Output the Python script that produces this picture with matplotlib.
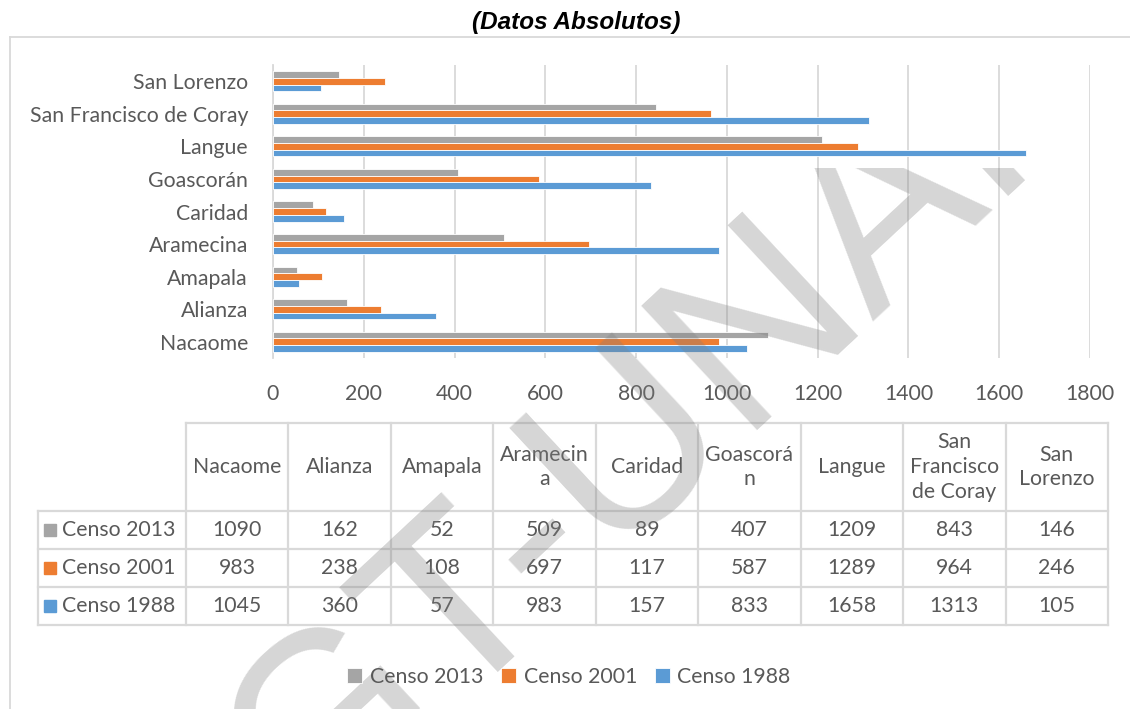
import matplotlib
matplotlib.use("Agg")
import matplotlib.pyplot as plt
from matplotlib.patches import Rectangle
from matplotlib.transforms import Bbox, TransformedBbox
import numpy as np

# data (bottom to top in the bar chart, left to right in the table)
municipios = ["Nacaome", "Alianza", "Amapala", "Aramecina", "Caridad",
              "Goascorán", "Langue", "San Francisco de Coray", "San Lorenzo"]
cabeceras = ["Nacaome", "Alianza", "Amapala", "Aramecin\na", "Caridad",
             "Goascorá\nn", "Langue", "San\nFrancisco\nde Coray", "San\nLorenzo"]
censo_2013 = [1090, 162, 52, 509, 89, 407, 1209, 843, 146]
censo_2001 = [983, 238, 108, 697, 117, 587, 1289, 964, 246]
censo_1988 = [1045, 360, 57, 983, 157, 833, 1658, 1313, 105]
series = ["Censo 2013", "Censo 2001", "Censo 1988"]
ticks_x = [0, 200, 400, 600, 800, 1000, 1200, 1400, 1600, 1800]

colores = ["#a5a5a5", "#ed7d31", "#5b9bd5"]
txt = "#595959"
linea = "#d9d9d9"
fuente = "Lato"
fs = 15.3

W, H = 1130, 709
fig = plt.figure(figsize=(W / 100, H / 100), dpi=100)

# bar chart area in pixel terms
px_l, px_r, px_t, px_b = 273, 1090, 65, 358
ax = fig.add_axes([px_l / W, 1 - px_b / H, (px_r - px_l) / W, (px_b - px_t) / H])

y = np.arange(len(municipios))
h = 0.205
valores = [censo_2013, censo_2001, censo_1988]
offs = [h, 0, -h]
barras = []
for vals, off, c, nom in zip(valores, offs, colores, series):
    b = ax.barh(y + off, vals, height=h, color=c, edgecolor="white",
                linewidth=0.6, label=nom, zorder=3)
    barras.append(b)

ax.set_xlim(0, 1800)
ax.set_ylim(-0.5, len(municipios) - 0.5)
ax.set_xticks(ticks_x)
ax.set_xticklabels([str(t) for t in ticks_x])
ax.set_yticks(y)
ax.set_yticklabels(municipios)
ax.grid(axis="x", color=linea, linewidth=1.3, zorder=0)
ax.tick_params(length=0, labelsize=fs, labelcolor=txt)
ax.tick_params(axis="x", pad=19)
ax.tick_params(axis="y", pad=18)
for lab in ax.get_xticklabels() + ax.get_yticklabels():
    lab.set_family(fuente)
for s in ["top", "right", "bottom"]:
    ax.spines[s].set_visible(False)
ax.spines["left"].set_color(linea)
ax.spines["left"].set_linewidth(1.3)

# overlay in pixel coordinates for title, border, table, watermark
ov = fig.add_axes([0, 0, 1, 1])
ov.set_xlim(0, W)
ov.set_ylim(H, 0)
ov.axis("off")
ov.patch.set_alpha(0)

ov.text(576, 22, "(Datos Absolutos)", ha="center", va="center",
        fontsize=17.5, fontweight="bold", fontstyle="italic",
        family="Liberation Sans", color="black")
ov.plot([10, W], [37, 37], color=linea, lw=1.3)
ov.plot([10, 10], [37, H], color=linea, lw=1.3)

# data table
cols = np.linspace(186, 1108, len(municipios) + 1)
filas = [423, 511, 549, 587, 625]
lw_t = 1.6
ov.plot([cols[0], cols[-1]], [filas[0], filas[0]], color=linea, lw=lw_t)
for fy in filas[1:]:
    ov.plot([38, cols[-1]], [fy, fy], color=linea, lw=lw_t)
ov.plot([38, 38], [filas[1], filas[-1]], color=linea, lw=lw_t)
for cx in cols:
    ov.plot([cx, cx], [filas[0], filas[-1]], color=linea, lw=lw_t)

for i, cab in enumerate(cabeceras):
    cx = (cols[i] + cols[i + 1]) / 2
    ov.text(cx, (filas[0] + filas[1]) / 2, cab, ha="center", va="center",
            fontsize=fs, color=txt, family=fuente, linespacing=1.3)

for r, (nom, vals, c) in enumerate(zip(series, valores, colores)):
    cy = (filas[r + 1] + filas[r + 2]) / 2
    ov.add_patch(Rectangle((44, cy - 6), 12, 12, color=c))
    ov.text(62, cy, nom, ha="left", va="center", fontsize=fs, color=txt,
            family=fuente)
    for i, v in enumerate(vals):
        cx = (cols[i] + cols[i + 1]) / 2
        ov.text(cx, cy, str(v), ha="center", va="center", fontsize=fs,
                color=txt, family=fuente)

# legend
leg = fig.legend(handles=barras, labels=series, loc="center",
                 bbox_to_anchor=(569 / W, 1 - 677 / H), ncol=3, frameon=False,
                 handlelength=0.7, handleheight=0.7, handletextpad=0.35,
                 columnspacing=0.85, prop={"family": fuente, "size": fs})
for t in leg.get_texts():
    t.set_color(txt)

# watermark, cut off at the top like in the original
marca = ov.text(715, 458, "GT-UNAH", rotation=43, rotation_mode="anchor",
                ha="center", va="baseline", fontsize=178,
                family="Liberation Sans", color="#808080", alpha=0.32,
                zorder=10)
marca.set_clip_on(True)
marca.set_clip_box(TransformedBbox(Bbox([[0, 168], [W, H]]), ov.transData))

fig.savefig("out.png", dpi=100)
